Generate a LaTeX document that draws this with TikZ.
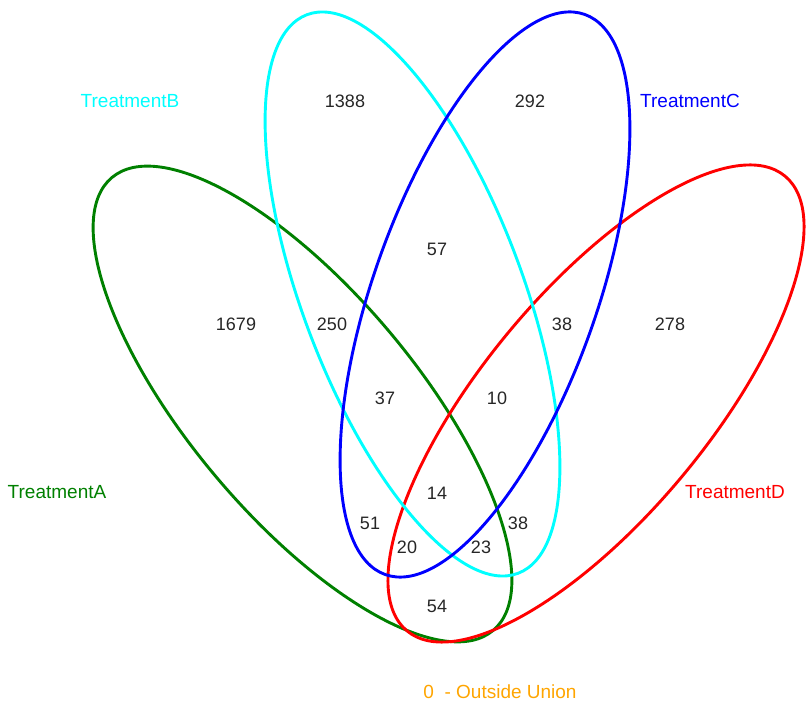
\documentclass[tikz,border=0pt]{standalone}
\usepackage{fontspec}
\setmainfont{Liberation Sans}
\definecolor{vgreen}{RGB}{0,128,0}
\definecolor{vcyan}{RGB}{0,255,255}
\definecolor{vblue}{RGB}{0,0,255}
\definecolor{vred}{RGB}{255,0,0}
\definecolor{vorange}{RGB}{255,165,0}
\begin{document}
\begin{tikzpicture}[x=1pt,y=1pt,
  setline/.style={line width=2.9pt},
  num/.style={font=\fontsize{18}{21}\selectfont, text=black!85, inner sep=0pt},
  lab/.style={font=\fontsize{19}{22}\selectfont, inner sep=0pt}]
\useasboundingbox (0,0) rectangle (806,713);
% ellipses
\draw[setline, vgreen, rotate around={-49.9:(302.5,309)}] (302.5,309) ellipse [x radius=296, y radius=113];
\draw[setline, vred, rotate around={50.25:(596,309.5)}] (596,309.5) ellipse [x radius=295.7, y radius=112.8];
\draw[setline, vcyan, rotate around={-69.3:(412.5,419)}] (412.5,419) ellipse [x radius=298.6, y radius=110];
\draw[setline, vblue, rotate around={70.4:(485,418.5)}] (485,418.5) ellipse [x radius=297.3, y radius=111.6];
% labels
\node[lab, text=vcyan] (labB) at (130,612) {TreatmentB};
\node[lab, text=vblue] (labC) at (690,612) {TreatmentC};
\node[lab, text=vgreen] (labA) at (57,221) {TreatmentA};
\node[lab, text=vred] (labD) at (735,221) {TreatmentD};
\node[lab, text=vorange] (labO) at (500,21) {0\ \ - Outside Union};
% numbers
\node[num] (n1388) at (345,612) {1388};
\node[num] (n292) at (530,612) {292};
\node[num] (n57) at (437,464) {57};
\node[num] (n1679) at (236,389) {1679};
\node[num] (n250) at (332,389) {250};
\node[num] (n38a) at (562,389) {38};
\node[num] (n278) at (670,389) {278};
\node[num] (n37) at (385,315) {37};
\node[num] (n10) at (497,315) {10};
\node[num] (n14) at (437,220) {14};
\node[num] (n51) at (370,190) {51};
\node[num] (n38b) at (518,190) {38};
\node[num] (n20) at (407,166) {20};
\node[num] (n23) at (481,166) {23};
\node[num] (n54) at (437,107) {54};
\end{tikzpicture}
\end{document}
